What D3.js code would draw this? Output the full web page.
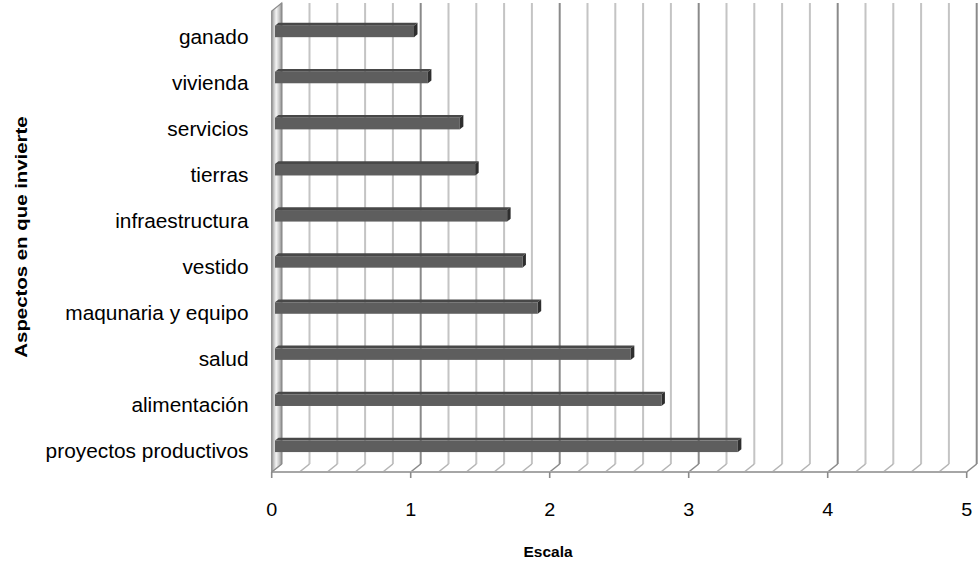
<!DOCTYPE html>
<html><head><meta charset="utf-8">
<script src="https://cdn.jsdelivr.net/npm/d3@7"></script>
<style>
html,body{margin:0;padding:0;background:#fff;}
svg{display:block;font-family:"Liberation Sans",Arial,sans-serif;}
</style></head>
<body><svg id="chart" width="980" height="563"></svg>
<script>
const categories = ["proyectos productivos","alimentación","salud","maqunaria y equipo","vestido","infraestructura","tierras","servicios","vivienda","ganado"];
const values = [3.33, 2.78, 2.56, 1.89, 1.78, 1.67, 1.44, 1.33, 1.10, 1.00];
const xTicks = [0,1,2,3,4,5];
const xTitle = "Escala";
const yTitle = "Aspectos en que invierte";

const svg = d3.select("#chart");
const DX = 10, DY = -8;               // full depth offset
const x = d3.scaleLinear().domain([0,5]).range([271.7, 966.7]);
const y = d3.scaleBand().domain(categories).range([472, 11]).paddingInner(0.75).paddingOuter(0.375);
const yFloor = 472, yTop = 11;

// back wall gridlines
const minor = d3.range(0, 5.0001, 0.2).map(v => +v.toFixed(1));
const g = svg.append("g");
minor.forEach(v => {
  const isMaj = Math.abs(v - Math.round(v)) < 1e-6 && v > 0;
  g.append("line")
    .attr("x1", x(v)+DX).attr("x2", x(v)+DX)
    .attr("y1", yTop+DY).attr("y2", yFloor+DY)
    .attr("stroke", isMaj ? "#8a8a8a" : "#c4c4c4").attr("stroke-width", 2);
  g.append("line")
    .attr("x1", x(v)).attr("y1", yFloor)
    .attr("x2", x(v)+DX).attr("y2", yFloor+DY)
    .attr("stroke", isMaj ? "#8a8a8a" : "#b4b4b4").attr("stroke-width", 1.6);
});
g.append("line").attr("x1", x(0)).attr("x2", x(5)).attr("y1", yFloor).attr("y2", yFloor)
  .attr("stroke", "#a6a6a6").attr("stroke-width", 2);

// left side wall
const defs = svg.append("defs");
const grad = defs.append("linearGradient").attr("id","wall").attr("x1","0").attr("x2","1").attr("y1","0").attr("y2","0");
grad.append("stop").attr("offset","0%").attr("stop-color","#9a9a9a");
grad.append("stop").attr("offset","45%").attr("stop-color","#f4f4f4");
grad.append("stop").attr("offset","75%").attr("stop-color","#c8c8c8");
grad.append("stop").attr("offset","100%").attr("stop-color","#8c8c8c");
svg.append("path")
  .attr("d", `M${x(0)},${yFloor} L${x(0)},${yTop} L${x(0)+DX},${yTop+DY} L${x(0)+DX},${yFloor+DY} Z`)
  .attr("fill","url(#wall)").attr("stroke","#8c8c8c").attr("stroke-width",1.2);

// ticks
svg.append("g").selectAll("line").data(xTicks).join("line")
  .attr("x1", d => x(d)).attr("x2", d => x(d)).attr("y1", yFloor).attr("y2", yFloor+6)
  .attr("stroke","#8a8a8a").attr("stroke-width",1.6);

// bars (3D boxes)
const b0x = DX*0.33, b0y = DY*0.33, b1x = DX*0.68, b1y = DY*0.68;
const bars = svg.append("g");
categories.forEach((c, i) => {
  const v = values[i];
  const yt = y(c) + b0y, yb = y(c) + y.bandwidth() + b0y;
  const xl = x(0) + b0x, xr = x(v) + b0x;
  const ddx = b1x - b0x, ddy = b1y - b0y;
  bars.append("path")
    .attr("d", `M${xl},${yt} L${xl+ddx},${yt+ddy} L${xr+ddx},${yt+ddy} L${xr},${yt} Z`)
    .attr("fill","#484848");
  bars.append("path")
    .attr("d", `M${xr},${yt} L${xr+ddx},${yt+ddy} L${xr+ddx},${yb+ddy} L${xr},${yb} Z`)
    .attr("fill","#2e2e2e");
  bars.append("rect").attr("x", xl).attr("y", yt).attr("width", xr-xl).attr("height", yb-yt)
    .attr("fill","#5e5e5e");
});

// category labels
svg.append("g").selectAll("text").data(categories).join("text")
  .attr("transform", d => `translate(248.5,${y(d)+y.bandwidth()/2+9.5}) scale(1.07,1)`)
  .attr("text-anchor","end").attr("font-size",19.5).attr("fill","#000")
  .text(d => d);

// tick labels
svg.append("g").selectAll("text").data(xTicks).join("text")
  .attr("transform", d => `translate(${x(d)},515.5) scale(1.1,1)`)
  .attr("text-anchor","middle").attr("font-size",18).attr("fill","#000")
  .text(d => d);

// axis titles
svg.append("text").attr("transform","translate(548,557)")
  .attr("text-anchor","middle").attr("font-size",15.5).attr("font-weight","bold").text(xTitle);
svg.append("text").attr("transform","translate(27,237) rotate(-90) scale(1.2,1)")
  .attr("text-anchor","middle").attr("font-size",17).attr("font-weight","bold").text(yTitle);
</script></body></html>
